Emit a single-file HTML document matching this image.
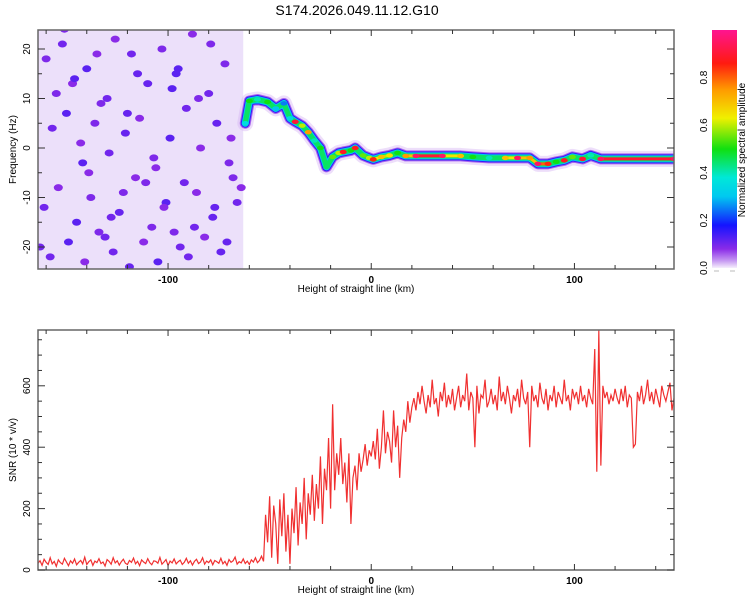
<!DOCTYPE html>
<html><head><meta charset="utf-8"><style>
body{margin:0;background:#fff;width:750px;height:600px;overflow:hidden;font-family:"Liberation Sans",sans-serif}
svg text{font-family:"Liberation Sans",sans-serif;fill:#000}
</style></head><body>
<svg id="s" width="750" height="600" xmlns="http://www.w3.org/2000/svg">
<defs>
<linearGradient id="cb" x1="0" y1="1" x2="0" y2="0">
<stop offset="0" stop-color="#f6effc"/><stop offset="0.03" stop-color="#c79af2"/><stop offset="0.08" stop-color="#8a2be8"/>
<stop offset="0.18" stop-color="#1414ff"/><stop offset="0.3" stop-color="#00c8f0"/><stop offset="0.38" stop-color="#00e8d8"/>
<stop offset="0.5" stop-color="#10e010"/><stop offset="0.63" stop-color="#f0f000"/><stop offset="0.75" stop-color="#ff9a00"/>
<stop offset="0.86" stop-color="#ff1a10"/><stop offset="1" stop-color="#ff1490"/>
</linearGradient>
<clipPath id="c1"><rect x="38" y="30" width="636" height="239"/></clipPath>
<clipPath id="c2"><rect x="38" y="330" width="636" height="240"/></clipPath>
</defs>
<text x="357" y="15" font-size="14" text-anchor="middle">S174.2026.049.11.12.G10</text>
<g id="topPanel"></g>
<g id="botPanel"></g>
<g id="cbarPanel"></g>
</svg>
<script>
// ---- data ----
const xTicks=[-100,0,100];
const freqTicks=[20,10,0,-10,-20];
const snrTicks=[0,200,400,600];
const cbTicks=[0.0,0.2,0.4,0.6,0.8];
const ridgeH=[-62,-60,-56,-51,-47,-43,-40,-37.4,-34,-31,-28,-25,-22,-19,-16,-13.8,-10,-7.9,-4,-1,1,5,9,13,17,22,35,44,50,58,66,72,78,82,87,91,95,99,104,108,113,149];
const ridgeF=[5,9.5,9.8,9.3,8,9,6,5.3,4.5,3.2,1.5,0,-3.8,-1.8,-1,-0.8,-0.5,0,-1.5,-2,-2.3,-1.8,-1.5,-1,-1.6,-1.6,-1.6,-1.6,-1.8,-2,-2,-2,-2,-3.2,-3.2,-2.8,-2.5,-1.8,-2.2,-1.5,-2.2,-2.2];
const ridgeA=[0.35,0.5,0.4,0.5,0.3,0.25,0.35,0.9,0.6,0.75,0.4,0.5,0.45,0.55,0.6,0.88,0.5,0.88,0.55,0.6,0.85,0.7,0.65,0.5,0.75,0.95,0.95,0.7,0.5,0.4,0.7,0.95,0.75,0.95,0.85,0.5,0.88,0.55,0.9,0.4,0.95,0.95];
const noiseH=[-160,-152,-147,-140,-133,-126,-118,-110,-103,-96,-88,-80,-72,-157,-150,-143,-136,-129,-121,-114,-107,-99,-91,-84,-76,-68,-161,-154,-145,-138,-131,-124,-116,-108,-101,-94,-86,-78,-70,-158,-149,-141,-134,-127,-119,-112,-105,-97,-90,-82,-74,-66,-155,-146,-139,-130,-122,-115,-106,-98,-92,-85,-77,-69,-163,-151,-142,-135,-128,-120,-111,-102,-95,-87,-79,-71,-64];
const noiseF=[18,21,13,16,9,22,19,13,20,15,23,11,17,4,7,1,5,-1,3,6,-2,2,8,0,5,-6,-12,-8,-15,-10,-18,-13,-6,-16,-11,-20,-9,-14,-3,-22,-19,-23,-17,-21,-24,-19,-23,-17,-22,-18,-21,-11,11,14,-5,10,-9,15,-4,12,-7,10,-12,2,-20,24,-3,19,-14,7,-7,-12,16,-16,21,-19,-8];
const noiseA=[0.09,0.1,0.08,0.12,0.09,0.08,0.1,0.11,0.09,0.12,0.08,0.1,0.09,0.1,0.12,0.08,0.09,0.1,0.11,0.08,0.09,0.12,0.1,0.08,0.11,0.09,0.1,0.08,0.12,0.09,0.1,0.11,0.08,0.09,0.12,0.1,0.08,0.11,0.09,0.1,0.12,0.08,0.09,0.1,0.11,0.08,0.12,0.09,0.1,0.08,0.11,0.1,0.09,0.12,0.08,0.1,0.09,0.11,0.08,0.12,0.1,0.09,0.11,0.08,0.1,0.09,0.12,0.08,0.1,0.11,0.09,0.08,0.12,0.1,0.09,0.11,0.08];
const snrStart=-164;
const snrVals=[22,30,15,35,25,18,40,20,28,12,33,24,19,38,26,14,30,22,36,17,25,31,20,42,18,27,33,15,29,24,37,21,26,13,34,28,19,40,23,30,16,27,35,22,18,31,25,39,20,28,14,33,26,21,37,24,17,30,28,22,41,19,26,34,15,29,23,36,20,27,32,18,25,38,22,30,16,28,35,21,26,40,19,29,24,33,17,31,27,22,38,20,28,15,34,25,30,42,19,27,23,36,21,29,18,33,26,40,24,31,45,28,
180,90,240,40,210,150,20,230,110,250,60,180,20,200,120,270,80,220,150,300,100,250,180,
310,160,280,200,370,150,330,260,430,200,540,260,380,310,430,
280,350,220,380,150,300,340,260,380,320,360,410,340,390,370,
420,360,460,330,400,520,380,450,420,350,520,400,470,300,430,490,450,550,480,530,
560,520,580,540,600,550,510,570,530,620,540,560,500,580,550,610,530,570,540,590,520,560,600,530,570,550,640,520,580,560,400,600,510,570,560,620,530,550,590,540,570,520,630,550,580,540,600,560,510,570,550,590,530,620,560,540,580,400,600,550,570,530,610,560,540,590,520,570,550,600,530,580,560,540,620,550,570,520,590,
560,580,540,600,550,570,530,590,560,540,720,320,780,340,600,560,580,540,570,550,590,
560,540,590,550,600,530,570,560,400,410,580,550,600,540,570,620,550,580,540,590,560,530,600,570,550,580,610,520,560];

// ---- scales ----
const L=38,R=674,T1=30,B1=269,T2=330,B2=570;
const hMin=-164,hMax=149;
const X=h=>L+(h-hMin)/(hMax-hMin)*(R-L);
const FY=f=>148-f*4.95;
const SY=v=>570-v*0.307;
const CY=v=>268-v*238;
const NS='http://www.w3.org/2000/svg';
function mk(p,tag,a){const e=document.createElementNS(NS,tag);for(const k in a)e.setAttribute(k,a[k]);p.appendChild(e);return e;}
function cmap(v){const st=[[0,[246,239,252]],[0.03,[199,154,242]],[0.08,[138,43,232]],[0.18,[20,20,255]],[0.3,[0,200,240]],[0.38,[0,232,216]],[0.5,[16,224,16]],[0.63,[240,240,0]],[0.75,[255,154,0]],[0.86,[255,26,16]],[1,[255,20,144]]];
for(let i=1;i<st.length;i++){if(v<=st[i][0]){const t=(v-st[i-1][0])/(st[i][0]-st[i-1][0]);const a=st[i-1][1],b=st[i][1];return 'rgb('+a.map((c,j)=>Math.round(c+(b[j]-c)*t)).join(',')+')';}}return 'rgb(255,20,144)';}

const topG=document.getElementById('topPanel'),botG=document.getElementById('botPanel'),cbG=document.getElementById('cbarPanel');
// noise region
const ng=mk(topG,'g',{'clip-path':'url(#c1)'});


const bg=mk(ng,'rect',{x:L,y:T1,width:X(-63)-L,height:B1-T1,fill:'#ece0fa'});


for(let i=0;i<noiseH.length;i++){
  const e=mk(ng,'ellipse',{cx:X(noiseH[i]),cy:FY(noiseF[i]),rx:4.5,ry:3.5,fill:cmap(noiseA[i])});
  
  
}
// ridge
const rg=mk(topG,'g',{'clip-path':'url(#c1)'});


const pts=ridgeH.map((h,i)=>X(h)+','+FY(ridgeF[i])).join(' ');
[[16,0.02,0.45],[11,0.06,0.9],[9,0.15,1],[7,0.3,1],[5,0.45,1]].forEach(([w,v,o])=>{
  const p=mk(rg,'polyline',{points:pts,fill:'none',stroke:cmap(v),'stroke-width':w,'stroke-linejoin':'round','stroke-linecap':'round',opacity:o});
  
  
});
for(let i=0;i<ridgeH.length-1;i++){
  const a=Math.min(ridgeA[i],ridgeA[i+1]);
  if(a>0.6){const s=mk(rg,'line',{x1:X(ridgeH[i]),y1:FY(ridgeF[i]),x2:X(ridgeH[i+1]),y2:FY(ridgeF[i+1]),stroke:cmap(a-0.05),'stroke-width':3,'stroke-linecap':'round'});
  
  }
}
for(let i=0;i<ridgeH.length;i++){
  const c=mk(rg,'ellipse',{cx:X(ridgeH[i]),cy:FY(ridgeF[i]),rx:3.5,ry:2.2,fill:cmap(ridgeA[i])});
  
  
}
// SNR line
const sp=snrVals.map((v,i)=>X(snrStart+i).toFixed(2)+','+SY(v).toFixed(2)).join(' ');
const sl=mk(botG,'polyline',{points:sp,fill:'none',stroke:'#f03030','stroke-width':1.2,'clip-path':'url(#c2)'});



// frames & axes
function frame(g,T,B,yTicks,Yf,minorStep,yMin,yMax,ytitle,tname){
  const f=mk(g,'rect',{x:L,y:T,width:R-L,height:B-T,fill:'none',stroke:'#666','stroke-width':1.5});
  
  
  for(let h=-160;h<=140;h+=20){const big=h%100===0;const len=big?6:4;
    mk(g,'line',{x1:X(h),x2:X(h),y1:T,y2:T+len,stroke:'#333','stroke-width':1});
    mk(g,'line',{x1:X(h),x2:X(h),y1:B,y2:B-len,stroke:'#333','stroke-width':1});}
  for(let v=Math.ceil(yMin/minorStep)*minorStep;v<=yMax;v+=minorStep){const y=Yf(v);const len=yTicks.includes(v)?7:4;
    mk(g,'line',{x1:L,x2:L+len,y1:y,y2:y,stroke:'#333'});mk(g,'line',{x1:R,x2:R-len,y1:y,y2:y,stroke:'#333'});}
  xTicks.forEach(h=>{const t=mk(g,'text',{x:X(h),y:B+14,'font-size':10,'font-weight':'bold','text-anchor':'middle'});t.textContent=h;
    
    });
  yTicks.forEach(v=>{const y=Yf(v);const t=mk(g,'text',{x:30,y:y,'font-size':10,'text-anchor':'middle',transform:'rotate(-90 30 '+y+')'});t.textContent=v;
    
    });
  const xt=mk(g,'text',{x:356,y:B+23,'font-size':10,'text-anchor':'middle'});xt.textContent='Height of straight line (km)';
  
  
  const cy=(T+B)/2;const yt=mk(g,'text',{x:16,y:cy,'font-size':10,'text-anchor':'middle',transform:'rotate(-90 16 '+cy+')'});yt.textContent=ytitle;
  
  
}
frame(topG,T1,B1,freqTicks,FY,5,-24,24,'Frequency (Hz)','spectrogram');
frame(botG,T2,B2,snrTicks,SY,50,0,780,'SNR (10 * v/v)','snr');

// colorbar
const cr=mk(cbG,'rect',{x:712,y:30,width:25,height:238,fill:'url(#cb)'});


cbTicks.forEach(v=>{const y=CY(v);const t=mk(cbG,'text',{x:707,y:y,'font-size':10,'text-anchor':'middle',transform:'rotate(-90 707 '+y+')'});t.textContent=v.toFixed(1);
  
  });
mk(cbG,'line',{x1:714,x2:719,y1:271,y2:271,stroke:'#bbb'});mk(cbG,'line',{x1:730,x2:735,y1:271,y2:271,stroke:'#bbb'});
const ct=mk(cbG,'text',{x:745,y:150,'font-size':10,'text-anchor':'middle',transform:'rotate(-90 745 150)'});ct.textContent='Normalized spectral amplitude';


</script>
</body></html>
